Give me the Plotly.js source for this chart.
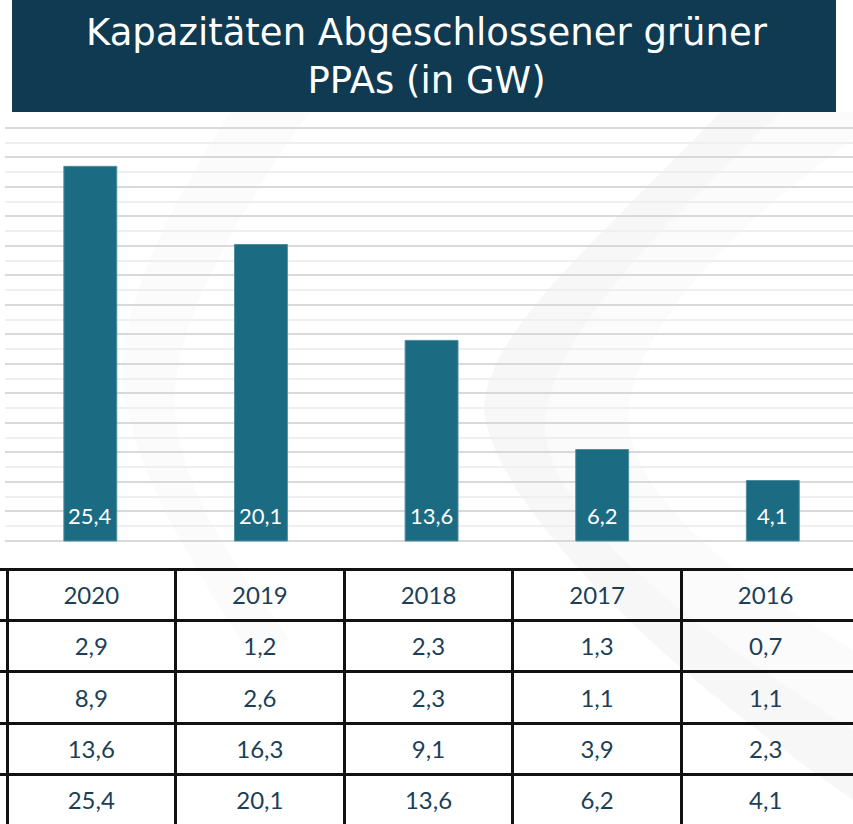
<!DOCTYPE html>
<html><head><meta charset="utf-8">
<script src="https://cdn.plot.ly/plotly-3.0.1.min.js"></script>
<style>html,body{margin:0;padding:0;background:#fff;}#chart{width:853px;height:824px;}</style>
</head><body><div id="chart"></div>
<script>
// Data
const years = ['2020', '2019', '2018', '2017', '2016'];
const region1 = [2.9, 1.2, 2.3, 1.3, 0.7];
const region2 = [8.9, 2.6, 2.3, 1.1, 1.1];
const region3 = [13.6, 16.3, 9.1, 3.9, 2.3];
const totals = [25.4, 20.1, 13.6, 6.2, 4.1];
const tableRows = [region1, region2, region3, totals];

const fmt = v => v.toFixed(1).replace('.', ',');
const W = 853, H = 824;
const FONT = 'Lato, "Open Sans", sans-serif';
const TFONT = '"DejaVu Sans", Verdana, sans-serif';
const NAVY = '#0f3a51';
const TEAL = '#1b6b82';
const TXT = '#1c3f57';
const px = (x, y) => (x / W).toFixed(4) + ',' + (1 - y / H).toFixed(4);

// bar chart
const bar = {
  type: 'bar', x: years, y: totals,
  marker: {color: TEAL, line: {color: '#4f8ea1', width: 1}},
  width: 0.31, hoverinfo: 'skip', xaxis: 'x', yaxis: 'y'
};

// table text (columns = years, rows = header + data rows)
const tx = [], ty = [], tt = [];
years.forEach((y, i) => { tx.push(i); ty.push(0); tt.push(y); });
tableRows.forEach((row, r) => row.forEach((v, i) => { tx.push(i); ty.push(r + 1); tt.push(fmt(v)); }));
const tableText = {
  type: 'scatter', mode: 'text', x: tx, y: ty, text: tt,
  textposition: 'middle center', cliponaxis: false,
  textfont: {family: FONT, size: 24, color: TXT},
  hoverinfo: 'skip', xaxis: 'x2', yaxis: 'y2'
};

const annotations = years.map((y, i) => ({
  x: i, y: 0, xref: 'x', yref: 'y', text: fmt(totals[i]),
  showarrow: false, yanchor: 'middle', yshift: 25,
  font: {family: FONT, size: 22, color: '#ffffff'}
}));

const colW = 168.6;
const rowH = 51.2;
const tableTop = 569.5;
const textDrop = 3 / rowH; // text sits slightly below the row middle
const rowLines = [0, 1, 2, 3, 4].map(k => k - 0.5 - textDrop);

const layout = {
  width: W, height: H,
  margin: {l: 0, r: 0, t: 0, b: 0},
  paper_bgcolor: '#ffffff', plot_bgcolor: 'rgba(0,0,0,0)',
  showlegend: false,
  title: {
    text: 'Kapazitäten Abgeschlossener grüner<br>PPAs (in GW)',
    x: 0.5, xanchor: 'center', y: 1 - 45 / H, yanchor: 'middle',
    font: {family: TFONT, size: 37, color: '#ffffff'}
  },
  xaxis: {
    domain: [5 / W, 1], range: [-0.5, 4.47], type: 'category',
    showticklabels: false, showgrid: false, zeroline: false, showline: false, ticks: ''
  },
  yaxis: {
    domain: [(H - 543.2) / H, (H - 126.5) / H], range: [-0.15, 28.1],
    showticklabels: false, zeroline: false, showline: false, ticks: '',
    dtick: 2, tick0: 0, showgrid: true, gridcolor: '#d9d9d9', gridwidth: 2,
    minor: {dtick: 1, tick0: 0, showgrid: true, gridcolor: '#efefef', gridwidth: 2}
  },
  xaxis2: {
    anchor: 'y2', domain: [0, 1],
    range: [-0.5 - 7 / colW, -0.5 - 7 / colW + W / colW],
    tickmode: 'array', tickvals: [-0.5, 0.5, 1.5, 2.5, 3.5],
    showgrid: true, gridcolor: '#111111', gridwidth: 3,
    showticklabels: false, zeroline: false, showline: false, ticks: ''
  },
  yaxis2: {
    anchor: 'x2', domain: [0, (H - tableTop + 1.5) / H],
    range: [rowLines[0] + (H - tableTop) / rowH, rowLines[0] - 1.5 / rowH],
    tickmode: 'array', tickvals: rowLines,
    showgrid: true, gridcolor: '#111111', gridwidth: 3,
    showticklabels: false, zeroline: false, showline: false, ticks: ''
  },
  shapes: [
    { // faint background swoosh (right)
      type: 'path', xref: 'paper', yref: 'paper', layer: 'below',
      path: 'M' + px(720, 112) + ' C' + px(600, 240) + ' ' + px(460, 350) + ' ' + px(488, 430) +
            ' C' + px(515, 520) + ' ' + px(650, 660) + ' ' + px(853, 800) +
            ' L' + px(853, 650) + ' C' + px(720, 570) + ' ' + px(615, 480) + ' ' + px(630, 400) +
            ' C' + px(650, 300) + ' ' + px(770, 200) + ' ' + px(853, 140) + ' L' + px(853, 112) + ' Z',
      fillcolor: 'rgba(0,0,0,0.016)', line: {width: 0}
    },
    { // darker inner edge of the right swoosh
      type: 'path', xref: 'paper', yref: 'paper', layer: 'below',
      path: 'M' + px(720, 112) + ' C' + px(600, 240) + ' ' + px(460, 350) + ' ' + px(488, 430) +
            ' C' + px(515, 520) + ' ' + px(650, 660) + ' ' + px(853, 800) +
            ' L' + px(853, 730) + ' C' + px(680, 620) + ' ' + px(555, 520) + ' ' + px(545, 430) +
            ' C' + px(545, 340) + ' ' + px(660, 230) + ' ' + px(780, 112) + ' Z',
      fillcolor: 'rgba(0,0,0,0.014)', line: {width: 0}
    },
    { // faint background swoosh (left)
      type: 'path', xref: 'paper', yref: 'paper', layer: 'below',
      path: 'M' + px(230, 112) + ' C' + px(160, 220) + ' ' + px(110, 330) + ' ' + px(125, 400) +
            ' C' + px(140, 480) + ' ' + px(190, 560) + ' ' + px(240, 640) +
            ' L' + px(290, 640) + ' C' + px(230, 560) + ' ' + px(175, 480) + ' ' + px(175, 400) +
            ' C' + px(175, 320) + ' ' + px(240, 210) + ' ' + px(310, 112) + ' Z',
      fillcolor: 'rgba(0,0,0,0.014)', line: {width: 0}
    },
    {
      type: 'rect', xref: 'paper', yref: 'paper', layer: 'above',
      x0: 12 / W, x1: 836 / W, y0: 1 - 112 / H, y1: 1,
      fillcolor: NAVY, line: {width: 0}
    }
  ],
  annotations: annotations
};

Plotly.newPlot('chart', [bar, tableText], layout, {displayModeBar: false, staticPlot: true});
</script></body></html>
